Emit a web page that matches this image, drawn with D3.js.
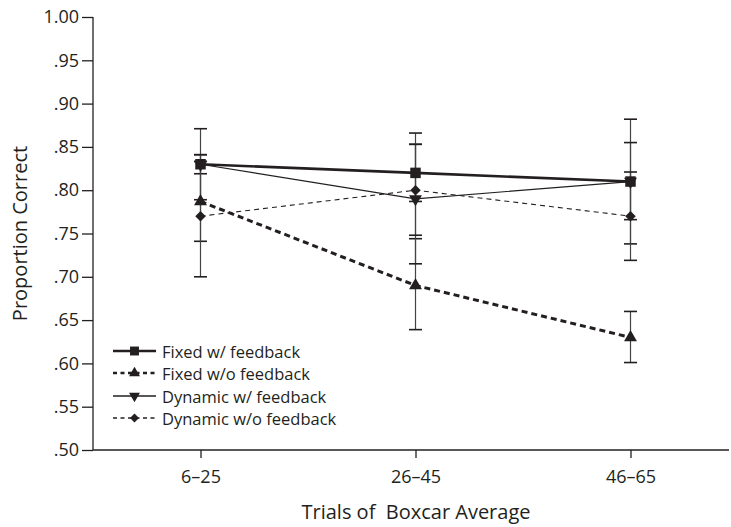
<!DOCTYPE html>
<html>
<head>
<meta charset="utf-8">
<script src="https://cdnjs.cloudflare.com/ajax/libs/d3/7.8.5/d3.min.js"></script>
<style>
  body { margin: 0; background: #fff; }
  text { font-family: "Open Sans", sans-serif; fill: #231f20; }
</style>
</head>
<body>
<svg id="chart" width="731" height="527"></svg>
<script>
// categories and tick labels
var categories = ["6–25", "26–45", "46–65"];
var yTicks = [0.50, 0.55, 0.60, 0.65, 0.70, 0.75, 0.80, 0.85, 0.90, 0.95, 1.00];
var yTickLabels = [".50", ".55", ".60", ".65", ".70", ".75", ".80", ".85", ".90", ".95", "1.00"];
var seriesNames = ["Fixed w/ feedback", "Fixed w/o feedback", "Dynamic w/ feedback", "Dynamic w/o feedback"];

// means
var fixedFb = [0.83, 0.82, 0.81];
var fixedNoFb = [0.787, 0.69, 0.63];
var dynamicFb = [0.83, 0.79, 0.81];
var dynamicNoFb = [0.77, 0.80, 0.77];

// error bar ends (low / high)
var fixedFbLow = [0.819, 0.787, 0.738];
var fixedFbHigh = [0.841, 0.853, 0.882];
var fixedNoFbLow = [0.741, 0.639, 0.601];
var fixedNoFbHigh = [0.833, 0.744, 0.660];
var dynamicFbLow = [0.789, 0.715, 0.766];
var dynamicFbHigh = [0.871, 0.866, 0.855];
var dynamicNoFbLow = [0.700, 0.748, 0.719];
var dynamicNoFbHigh = [0.841, 0.853, 0.821];

var ink = "#231f20";
var plotL = 93, plotR = 729, plotT = 17, plotB = 450;

var svg = d3.select("#chart");

var x = d3.scalePoint()
  .domain(categories)
  .range([plotL, plotR + 9])
  .padding(0.5);

var y = d3.scaleLinear()
  .domain([0.5, 1.0])
  .range([plotB, plotT]);

var series = [
  {name: seriesNames[0], values: fixedFb, low: fixedFbLow, high: fixedFbHigh,
   width: 2.6, dash: null, legendW: 2.6, symbol: "square"},
  {name: seriesNames[1], values: fixedNoFb, low: fixedNoFbLow, high: fixedNoFbHigh,
   width: 3, dash: "6,4", legendW: 2.6, symbol: "up"},
  {name: seriesNames[2], values: dynamicFb, low: dynamicFbLow, high: dynamicFbHigh,
   width: 1.2, dash: null, legendW: 1.3, symbol: "down"},
  {name: seriesNames[3], values: dynamicNoFb, low: dynamicNoFbLow, high: dynamicNoFbHigh,
   width: 1.1, dash: "5,4", legendW: 1.6, symbol: "diamond"}
];

function markerPath(kind) {
  if (kind === "square") return d3.symbol().type(d3.symbolSquare).size(110)();
  if (kind === "diamond") return d3.symbol().type(d3.symbolSquare).size(55)();
  return d3.symbol().type(d3.symbolTriangle).size(72)();
}
function markerRot(kind) {
  if (kind === "down") return 180;
  if (kind === "diamond") return 45;
  return 0;
}

// axes
var yAxis = d3.axisLeft(y)
  .tickValues(yTicks)
  .tickFormat(function (d, i) { return yTickLabels[i]; })
  .tickSize(11)
  .tickPadding(3);

var gy = svg.append("g")
  .attr("transform", "translate(" + plotL + ",0)")
  .call(yAxis);
gy.select(".domain").remove();
gy.append("line")
  .attr("x1", 0).attr("x2", 0)
  .attr("y1", plotT).attr("y2", plotB)
  .attr("stroke", ink).attr("stroke-width", 1.3);
gy.selectAll(".tick line").attr("stroke", ink).attr("stroke-width", 1.3);
gy.selectAll(".tick text")
  .attr("fill", ink)
  .style("font-family", "'Open Sans', sans-serif")
  .style("font-size", "18px");

var xAxis = d3.axisBottom(x).tickSize(8).tickPadding(12);
var gx = svg.append("g")
  .attr("transform", "translate(0," + plotB + ")")
  .call(xAxis);
gx.select(".domain").remove();
gx.append("line")
  .attr("x1", plotL).attr("x2", plotR)
  .attr("y1", 0).attr("y2", 0)
  .attr("stroke", ink).attr("stroke-width", 1.3);
gx.selectAll(".tick line").attr("stroke", ink).attr("stroke-width", 1.3);
gx.selectAll(".tick text")
  .attr("fill", ink)
  .style("font-family", "'Open Sans', sans-serif")
  .style("font-size", "18px");

// axis titles
svg.append("text")
  .attr("transform", "translate(22," + ((plotT + plotB) / 2) + ") rotate(-90)")
  .attr("text-anchor", "middle")
  .attr("dominant-baseline", "middle")
  .style("font-size", "20px")
  .text("Proportion Correct");

svg.append("text")
  .attr("x", 416)
  .attr("y", 519)
  .attr("text-anchor", "middle")
  .style("font-size", "20px")
  .style("white-space", "pre")
  .text("Trials of  Boxcar Average");

// error bars
var capW = 6.5;
series.forEach(function (s) {
  var g = svg.append("g").attr("class", "err");
  categories.forEach(function (c, i) {
    var cx = x(c);
    g.append("line")
      .attr("x1", cx).attr("x2", cx)
      .attr("y1", y(s.low[i])).attr("y2", y(s.high[i]))
      .attr("stroke", "#444").attr("stroke-width", 1.2);
    [s.low[i], s.high[i]].forEach(function (v) {
      g.append("line")
        .attr("x1", cx - capW).attr("x2", cx + capW)
        .attr("y1", y(v)).attr("y2", y(v))
        .attr("stroke", ink).attr("stroke-width", 1.6);
    });
  });
});

// lines
var line = d3.line()
  .x(function (d, i) { return x(categories[i]); })
  .y(function (d) { return y(d); });

series.forEach(function (s) {
  svg.append("path")
    .datum(s.values)
    .attr("fill", "none")
    .attr("stroke", ink)
    .attr("stroke-width", s.width)
    .attr("stroke-dasharray", s.dash)
    .attr("d", line);
});

// markers
series.forEach(function (s) {
  svg.append("g").selectAll("path")
    .data(s.values)
    .enter()
      .append("path")
        .attr("d", markerPath(s.symbol))
        .attr("fill", ink)
        .attr("transform", function (d, i) {
          return "translate(" + x(categories[i]) + "," + y(d) + ") rotate(" + markerRot(s.symbol) + ")";
        });
});

// legend
var legendY = [351, 373, 396, 418];
var legend = svg.append("g");
series.forEach(function (s, i) {
  var row = legend.append("g")
    .attr("transform", "translate(0," + legendY[i] + ")");
  row.append("line")
    .attr("x1", 113).attr("x2", 156)
    .attr("y1", 0).attr("y2", 0)
    .attr("stroke", ink)
    .attr("stroke-width", s.legendW)
    .attr("stroke-dasharray", s.dash ? "4,3.5" : null);
  row.append("path")
    .attr("d", markerPath(s.symbol))
    .attr("fill", ink)
    .attr("transform", "translate(134.5,0) rotate(" + markerRot(s.symbol) + ") scale(0.85)");
  row.append("text")
    .attr("x", 162)
    .attr("y", 0)
    .attr("dominant-baseline", "central")
    .style("font-size", "16.5px")
    .text(s.name);
});
</script>
</body>
</html>
